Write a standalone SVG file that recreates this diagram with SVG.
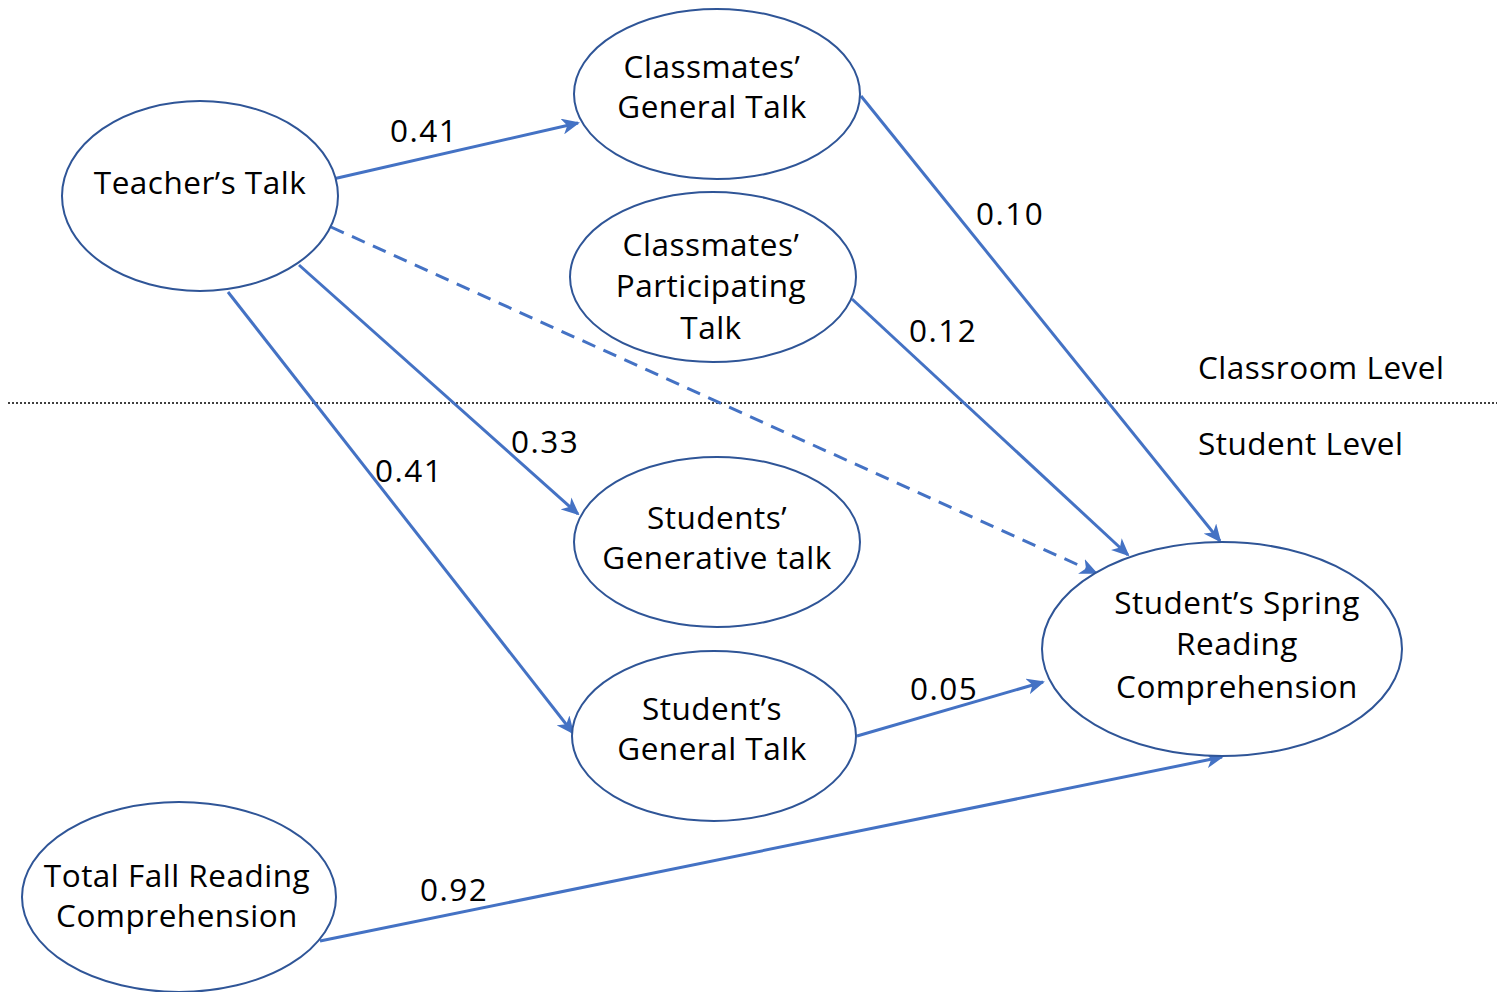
<svg xmlns="http://www.w3.org/2000/svg" width="1498" height="992" viewBox="0 0 1498 992">
<style>
.node ellipse{fill:#fff;stroke:#2F5597;stroke-width:2}
text{font-family:"Open Sans","Liberation Sans",sans-serif;font-size:31.5px;fill:#000;letter-spacing:0.5px}
.t{text-anchor:middle}
.n{letter-spacing:1.5px}
.c{fill:none;stroke:#4472C4;stroke-width:3}
.d{stroke-dasharray:14,9}
</style>
<defs>
<marker id="ah" viewBox="0 0 18 16" refX="16" refY="8" markerWidth="18" markerHeight="16" markerUnits="userSpaceOnUse" orient="auto">
<path d="M0,0 L18,8 L0,16 L5,8 z" fill="#4472C4"/>
</marker>
</defs>
<line x1="8" y1="403" x2="1497" y2="403" stroke="#000" stroke-width="1.5" stroke-dasharray="2,2"/>
<g id="connectors">
<line class="c" x1="333" y1="179" x2="578" y2="123" marker-end="url(#ah)"/>
<line class="c" x1="861" y1="96" x2="1220" y2="541" marker-end="url(#ah)"/>
<line class="c" x1="852" y1="299" x2="1128" y2="555" marker-end="url(#ah)"/>
<line class="c d" x1="331" y1="227" x2="1096" y2="573" marker-end="url(#ah)"/>
<line class="c" x1="299" y1="265" x2="578" y2="514" marker-end="url(#ah)"/>
<line class="c" x1="228" y1="292" x2="573" y2="733" marker-end="url(#ah)"/>
<line class="c" x1="857" y1="736" x2="1043" y2="682" marker-end="url(#ah)"/>
<line class="c" x1="320" y1="941" x2="1222" y2="757" marker-end="url(#ah)"/>
<text class="n" x="390" y="142">0.41</text>
<text class="n" x="976" y="225">0.10</text>
<text class="n" x="909" y="342">0.12</text>
<text class="n" x="511" y="453">0.33</text>
<text class="n" x="375" y="482">0.41</text>
<text class="n" x="910" y="700">0.05</text>
<text class="n" x="420" y="901">0.92</text>
</g>
<g id="teacher" class="node"><ellipse cx="200" cy="196" rx="138" ry="95"/><text class="t" x="200" y="194">Teacher’s Talk</text></g>
<g id="classGeneral" class="node"><ellipse cx="717" cy="94" rx="143" ry="85"/><text class="t" x="712" y="78">Classmates’</text><text class="t" x="712" y="118">General Talk</text></g>
<g id="classPart" class="node"><ellipse cx="713" cy="277" rx="143" ry="85"/><text class="t" x="711" y="256">Classmates’</text><text class="t" x="711" y="297">Participating</text><text class="t" x="711" y="339">Talk</text></g>
<g id="genTalk" class="node"><ellipse cx="717" cy="542" rx="143" ry="85"/><text class="t" x="717" y="529">Students’</text><text class="t" x="717" y="569">Generative talk</text></g>
<g id="stuGeneral" class="node"><ellipse cx="714" cy="736" rx="142" ry="85"/><text class="t" x="712" y="720">Student’s</text><text class="t" x="712" y="760">General Talk</text></g>
<g id="spring" class="node"><ellipse cx="1222" cy="649" rx="180" ry="107"/><text class="t" x="1237" y="614">Student’s Spring</text><text class="t" x="1237" y="655">Reading</text><text class="t" x="1237" y="698">Comprehension</text></g>
<g id="fall" class="node"><ellipse cx="179" cy="897" rx="157" ry="95"/><text class="t" x="177" y="887">Total Fall Reading</text><text class="t" x="177" y="927">Comprehension</text></g>
<text x="1198" y="379">Classroom Level</text>
<text x="1198" y="455">Student Level</text>
</svg>
